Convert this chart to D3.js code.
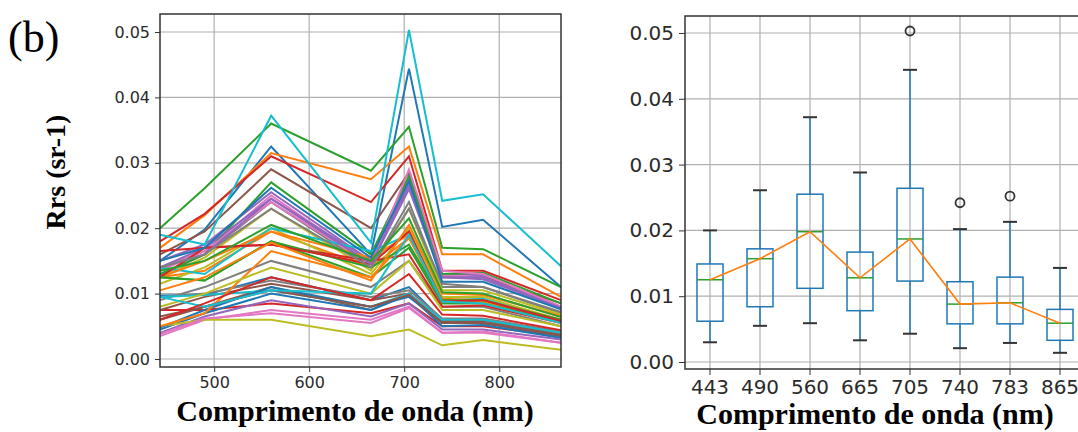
<!DOCTYPE html>
<meta charset="utf-8">
<style>
body { margin: 0; background: #fff; }
.tick text { fill: #2b2b2b; font-family: "DejaVu Sans", sans-serif; }
.ttl { font-family: "Liberation Serif", "Times New Roman", serif; font-weight: bold; fill: #000; }
</style>
<svg width="1078" height="432"></svg>
<script src="https://d3js.org/d3.v7.min.js"></script>
<script>
// wavelengths (nm)
var bands = [443, 490, 560, 665, 705, 740, 783, 865];
var bandLabels = ["443", "490", "560", "665", "705", "740", "783", "865"];

// Rrs spectra (sr-1), one per sample, values at each band
var spectra = [
  [0.0150, 0.0198, 0.0325, 0.0160, 0.0444, 0.0202, 0.0213, 0.0110],
  [0.0170, 0.0220, 0.0315, 0.0275, 0.0325, 0.0160, 0.0160, 0.0095],
  [0.0200, 0.0261, 0.0360, 0.0288, 0.0355, 0.0170, 0.0168, 0.0110],
  [0.0180, 0.0222, 0.0310, 0.0240, 0.0310, 0.0135, 0.0135, 0.0090],
  [0.0150, 0.0175, 0.0255, 0.0150, 0.0275, 0.0130, 0.0128, 0.0080],
  [0.0160, 0.0195, 0.0290, 0.0200, 0.0285, 0.0125, 0.0125, 0.0085],
  [0.0140, 0.0165, 0.0250, 0.0145, 0.0270, 0.0128, 0.0125, 0.0078],
  [0.0128, 0.0160, 0.0240, 0.0140, 0.0240, 0.0110, 0.0110, 0.0070],
  [0.0125, 0.0155, 0.0230, 0.0135, 0.0230, 0.0105, 0.0105, 0.0068],
  [0.0190, 0.0175, 0.0372, 0.0178, 0.0503, 0.0242, 0.0252, 0.0142],
  [0.0097, 0.0098, 0.0125, 0.0090, 0.0110, 0.0060, 0.0060, 0.0040],
  [0.0125, 0.0135, 0.0195, 0.0140, 0.0185, 0.0090, 0.0088, 0.0058],
  [0.0130, 0.0160, 0.0270, 0.0160, 0.0280, 0.0130, 0.0132, 0.0085],
  [0.0075, 0.0075, 0.0085, 0.0070, 0.0085, 0.0050, 0.0050, 0.0035],
  [0.0140, 0.0170, 0.0245, 0.0150, 0.0265, 0.0125, 0.0122, 0.0078],
  [0.0060, 0.0080, 0.0110, 0.0075, 0.0100, 0.0055, 0.0055, 0.0035],
  [0.0135, 0.0165, 0.0240, 0.0145, 0.0290, 0.0135, 0.0130, 0.0080],
  [0.0090, 0.0110, 0.0150, 0.0110, 0.0150, 0.0080, 0.0080, 0.0050],
  [0.0115, 0.0140, 0.0200, 0.0130, 0.0200, 0.0095, 0.0095, 0.0060],
  [0.0140, 0.0130, 0.0200, 0.0165, 0.0190, 0.0090, 0.0092, 0.0058],
  [0.0045, 0.0070, 0.0100, 0.0075, 0.0098, 0.0050, 0.0052, 0.0032],
  [0.0125, 0.0150, 0.0195, 0.0155, 0.0190, 0.0090, 0.0090, 0.0060],
  [0.0125, 0.0120, 0.0180, 0.0125, 0.0170, 0.0085, 0.0085, 0.0057],
  [0.0125, 0.0170, 0.0175, 0.0150, 0.0160, 0.0080, 0.0082, 0.0055],
  [0.0040, 0.0065, 0.0090, 0.0065, 0.0085, 0.0045, 0.0045, 0.0030],
  [0.0075, 0.0095, 0.0115, 0.0090, 0.0100, 0.0058, 0.0058, 0.0038],
  [0.0035, 0.0060, 0.0075, 0.0060, 0.0080, 0.0040, 0.0042, 0.0025],
  [0.0095, 0.0100, 0.0120, 0.0095, 0.0105, 0.0062, 0.0062, 0.0042],
  [0.0050, 0.0060, 0.0060, 0.0035, 0.0045, 0.0021, 0.0029, 0.0014],
  [0.0095, 0.0098, 0.0105, 0.0080, 0.0100, 0.0060, 0.0060, 0.0040],
  [0.0048, 0.0075, 0.0110, 0.0080, 0.0095, 0.0055, 0.0055, 0.0035],
  [0.0050, 0.0070, 0.0165, 0.0125, 0.0185, 0.0092, 0.0090, 0.0060],
  [0.0125, 0.0120, 0.0180, 0.0140, 0.0175, 0.0090, 0.0090, 0.0060],
  [0.0165, 0.0170, 0.0175, 0.0145, 0.0195, 0.0088, 0.0090, 0.0058],
  [0.0140, 0.0160, 0.0245, 0.0145, 0.0260, 0.0125, 0.0125, 0.0078],
  [0.0065, 0.0080, 0.0105, 0.0080, 0.0098, 0.0055, 0.0055, 0.0036],
  [0.0038, 0.0062, 0.0070, 0.0055, 0.0078, 0.0040, 0.0040, 0.0025],
  [0.0140, 0.0160, 0.0230, 0.0140, 0.0230, 0.0115, 0.0110, 0.0072],
  [0.0080, 0.0100, 0.0140, 0.0100, 0.0150, 0.0075, 0.0075, 0.0050],
  [0.0095, 0.0080, 0.0105, 0.0100, 0.0190, 0.0088, 0.0085, 0.0055],
  [0.0150, 0.0170, 0.0262, 0.0155, 0.0272, 0.0118, 0.0118, 0.0076],
  [0.0105, 0.0125, 0.0178, 0.0120, 0.0205, 0.0100, 0.0098, 0.0066],
  [0.0135, 0.0150, 0.0205, 0.0150, 0.0215, 0.0102, 0.0100, 0.0064],
  [0.0060, 0.0085, 0.0125, 0.0090, 0.0130, 0.0068, 0.0066, 0.0044]
];

// box plot stats per band
var whiskLow  = [0.0030, 0.0055, 0.0059, 0.0033, 0.0043, 0.0021, 0.0029, 0.0014];
var q1        = [0.0062, 0.0084, 0.0112, 0.0078, 0.0123, 0.0058, 0.0058, 0.0033];
var median    = [0.0125, 0.0157, 0.0198, 0.0128, 0.0187, 0.0088, 0.0090, 0.0059];
var q3        = [0.0149, 0.0172, 0.0255, 0.0167, 0.0264, 0.0122, 0.0129, 0.0080];
var whiskHigh = [0.0200, 0.0261, 0.0372, 0.0288, 0.0444, 0.0202, 0.0213, 0.0143];
var outliers  = [[], [], [], [], [0.0503], [0.0242], [0.0252], []];

var yTicks = [0, 0.01, 0.02, 0.03, 0.04, 0.05];

var svg = d3.select("svg");
svg.append("rect").attr("width", 1078).attr("height", 432).attr("fill", "#fff");

var color = d3.scaleOrdinal(d3.schemeCategory10);
var fmt = d3.format(".2f");

// ---------- left panel: spectra ----------
var x1 = d3.scaleLinear().domain([443, 865]).range([160, 561]);
var y1 = d3.scaleLinear().domain([-0.00122, 0.05275]).range([367, 14]);

var g1 = svg.append("g");
g1.selectAll(".vg").data([500, 600, 700, 800]).enter().append("line")
  .attr("x1", d => x1(d)).attr("x2", d => x1(d)).attr("y1", 14).attr("y2", 367)
  .attr("stroke", "#b0b0b0").attr("stroke-width", 1.2);
g1.selectAll(".hg").data(yTicks).enter().append("line")
  .attr("x1", 160).attr("x2", 561).attr("y1", d => y1(d)).attr("y2", d => y1(d))
  .attr("stroke", "#b0b0b0").attr("stroke-width", 1.2);

var line1 = d3.line().x((d, i) => x1(bands[i])).y(d => y1(d));
g1.selectAll(".spec").data(spectra).enter().append("path")
  .attr("d", line1)
  .attr("fill", "none")
  .attr("stroke", (d, i) => color(i % 10))
  .attr("stroke-width", 2);

g1.append("rect").attr("x", 160).attr("y", 14).attr("width", 401).attr("height", 353)
  .attr("fill", "none").attr("stroke", "#333").attr("stroke-width", 1.5);

var ax1 = g1.append("g").attr("transform", "translate(0,367)")
  .call(d3.axisBottom(x1).tickValues([500, 600, 700, 800]).tickSize(5).tickPadding(5));
ax1.select(".domain").remove();
ax1.selectAll("text").style("font-size", "16px");
ax1.selectAll("line").attr("stroke", "#333");

var ay1 = g1.append("g").attr("transform", "translate(160,0)")
  .call(d3.axisLeft(y1).tickValues(yTicks).tickFormat(fmt).tickSize(5).tickPadding(5));
ay1.select(".domain").remove();
ay1.selectAll("text").style("font-size", "16px");
ay1.selectAll("line").attr("stroke", "#333");

// ---------- right panel: box plots ----------
var x2 = d3.scaleBand().domain(bandLabels).range([685, 1085]);
var y2 = d3.scaleLinear().domain([-0.00106, 0.05258]).range([369, 16]);
var bw = 26, cw = 14;

var g2 = svg.append("g");
g2.selectAll(".vg").data(bandLabels).enter().append("line")
  .attr("x1", d => x2(d) + x2.bandwidth() / 2).attr("x2", d => x2(d) + x2.bandwidth() / 2)
  .attr("y1", 16).attr("y2", 369)
  .attr("stroke", "#b0b0b0").attr("stroke-width", 1.2);
g2.selectAll(".hg").data(yTicks).enter().append("line")
  .attr("x1", 685).attr("x2", 1085).attr("y1", d => y2(d)).attr("y2", d => y2(d))
  .attr("stroke", "#b0b0b0").attr("stroke-width", 1.2);

var box = g2.selectAll(".box").data(bandLabels).enter().append("g")
  .attr("transform", d => "translate(" + (x2(d) + x2.bandwidth() / 2) + ",0)");
box.append("line").attr("y1", (d, i) => y2(whiskLow[i])).attr("y2", (d, i) => y2(q1[i]))
  .attr("stroke", "#1f77b4").attr("stroke-width", 1.5);
box.append("line").attr("y1", (d, i) => y2(q3[i])).attr("y2", (d, i) => y2(whiskHigh[i]))
  .attr("stroke", "#1f77b4").attr("stroke-width", 1.5);
box.append("line").attr("x1", -cw / 2).attr("x2", cw / 2)
  .attr("y1", (d, i) => y2(whiskLow[i])).attr("y2", (d, i) => y2(whiskLow[i]))
  .attr("stroke", "#333").attr("stroke-width", 2);
box.append("line").attr("x1", -cw / 2).attr("x2", cw / 2)
  .attr("y1", (d, i) => y2(whiskHigh[i])).attr("y2", (d, i) => y2(whiskHigh[i]))
  .attr("stroke", "#333").attr("stroke-width", 2);
box.append("rect").attr("x", -bw / 2).attr("width", bw)
  .attr("y", (d, i) => y2(q3[i])).attr("height", (d, i) => y2(q1[i]) - y2(q3[i]))
  .attr("fill", "none").attr("stroke", "#1f77b4").attr("stroke-width", 1.5);
box.append("line").attr("x1", -bw / 2).attr("x2", bw / 2)
  .attr("y1", (d, i) => y2(median[i])).attr("y2", (d, i) => y2(median[i]))
  .attr("stroke", "#2ca02c").attr("stroke-width", 1.5);
box.each(function(d, i) {
  d3.select(this).selectAll("circle").data(outliers[i]).enter().append("circle")
    .attr("cy", v => y2(v)).attr("r", 4.5)
    .attr("fill", "none").attr("stroke", "#333").attr("stroke-width", 1.8);
});

var line2 = d3.line().x((d, i) => x2(bandLabels[i]) + x2.bandwidth() / 2).y(d => y2(d));
g2.append("path").datum(median).attr("d", line2)
  .attr("fill", "none").attr("stroke", "#ff7f0e").attr("stroke-width", 1.6);

g2.append("rect").attr("x", 685).attr("y", 16).attr("width", 400).attr("height", 353)
  .attr("fill", "none").attr("stroke", "#333").attr("stroke-width", 1.5);

var ax2 = g2.append("g").attr("transform", "translate(0,369)")
  .call(d3.axisBottom(x2).tickSize(6).tickPadding(5));
ax2.select(".domain").remove();
ax2.selectAll("text").style("font-size", "20px");
ax2.selectAll("line").attr("stroke", "#333");

var ay2 = g2.append("g").attr("transform", "translate(685,0)")
  .call(d3.axisLeft(y2).tickValues(yTicks).tickFormat(fmt).tickSize(6).tickPadding(5));
ay2.select(".domain").remove();
ay2.selectAll("text").style("font-size", "20px");
ay2.selectAll("line").attr("stroke", "#333");

// ---------- titles ----------
svg.append("text").attr("class", "ttl").attr("x", 355).attr("y", 421)
  .attr("text-anchor", "middle").style("font-size", "30px").text("Comprimento de onda (nm)");
svg.append("text").attr("class", "ttl").attr("x", 875).attr("y", 424)
  .attr("text-anchor", "middle").style("font-size", "30px").text("Comprimento de onda (nm)");
svg.append("text").attr("class", "ttl")
  .attr("transform", "translate(65,172) rotate(-90)")
  .attr("text-anchor", "middle").style("font-size", "28px").text("Rrs (sr-1)");
svg.append("text").attr("x", 8).attr("y", 52)
  .style("font-family", "'Liberation Serif', serif").style("font-size", "44px").text("(b)");
</script>
